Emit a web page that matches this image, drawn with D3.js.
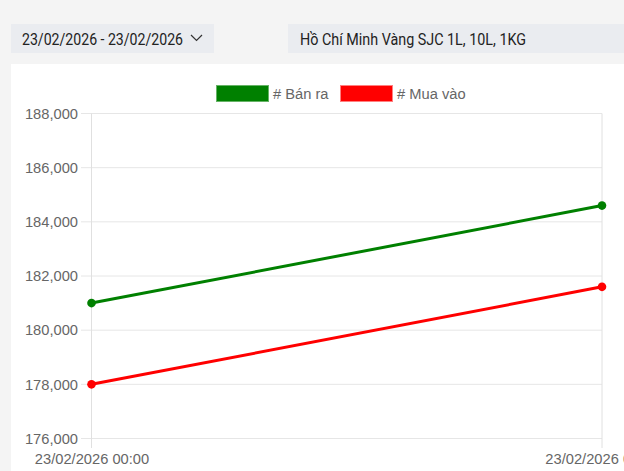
<!DOCTYPE html>
<html><head><meta charset="utf-8">
<script src="https://cdn.jsdelivr.net/npm/d3@7"></script>
<style>
html,body{margin:0;padding:0;background:#f4f4f4;width:624px;height:471px;overflow:hidden;}
svg{display:block;}
</style></head><body>
<svg id="c" width="624" height="471"></svg>
<script>
const categories = ["23/02/2026 00:00", "23/02/2026 00:00"];
const banRa = [181000, 184600];
const muaVao = [178000, 181600];
const yTicks = [176000, 178000, 180000, 182000, 184000, 186000, 188000];
const seriesNames = ["# Bán ra", "# Mua vào"];
const seriesColors = ["#008000", "#ff0000"];
const dateRange = "23/02/2026 - 23/02/2026";
const product = "Hồ Chí Minh Vàng SJC 1L, 10L, 1KG";

const svg = d3.select("#c");
const font = "'Liberation Sans', Arial, sans-serif";
const fs = 14.7;

// top controls
svg.append("rect").attr("x",11).attr("y",24).attr("width",203).attr("height",29).attr("fill","#eaecf0");
svg.append("text").attr("x",22).attr("y",44.5).attr("font-family","Roboto, sans-serif").attr("font-size",16)
  .attr("textLength",161).attr("lengthAdjust","spacingAndGlyphs").attr("fill","#222").text(dateRange);
svg.append("path").attr("d","M191,35 L196.5,40.5 L202,35").attr("fill","none").attr("stroke","#333").attr("stroke-width",1.2);
svg.append("rect").attr("x",288).attr("y",24).attr("width",340).attr("height",29).attr("fill","#eaecf0");
svg.append("text").attr("x",300).attr("y",44.5).attr("font-family","Roboto, sans-serif").attr("font-size",16)
  .attr("textLength",226).attr("lengthAdjust","spacingAndGlyphs").attr("fill","#222").text(product);

// white panel
svg.append("rect").attr("x",11).attr("y",64).attr("width",620).attr("height",420).attr("fill","#fff");

const x = d3.scalePoint().domain(d3.range(categories.length)).range([91.5, 602]);
const y = d3.scaleLinear().domain([176000,188000]).range([438.5, 113.5]);

// grid
const g = svg.append("g");
g.selectAll("line.h").data(yTicks).join("line")
  .attr("x1",81).attr("x2",602).attr("y1",d=>y(d)).attr("y2",d=>y(d))
  .attr("stroke","#e6e6e6").attr("stroke-width",1);
g.selectAll("line.v").data(d3.range(categories.length)).join("line")
  .attr("x1",d=>x(d)).attr("x2",d=>x(d)).attr("y1",113.5).attr("y2",448)
  .attr("stroke","#e0e0e0").attr("stroke-width",1);

// y labels
const yAxis = d3.axisLeft(y).tickValues(yTicks).tickSize(0).tickPadding(0).tickFormat(d3.format(","));
const ya = svg.append("g").attr("transform","translate(78,0)").call(yAxis);
ya.select(".domain").remove();
ya.selectAll("text").attr("font-family",font).attr("font-size",fs).attr("fill","#666");

// x labels
const xAxis = d3.axisBottom(x).tickSize(0).tickPadding(0).tickFormat(i=>categories[i]);
const xa = svg.append("g").attr("transform","translate(0,454)").call(xAxis);
xa.select(".domain").remove();
xa.selectAll("text").attr("font-family",font).attr("font-size",fs).attr("fill","#666");

// lines
const series = [banRa, muaVao];
const line = d3.line().x((d,i)=>x(i)).y(d=>y(d));
series.forEach((s,k)=>{
  svg.append("path").datum(s).attr("d",line).attr("fill","none").attr("stroke",seriesColors[k]).attr("stroke-width",3);
  svg.selectAll(null).data(s).join("circle").attr("cx",(d,i)=>x(i)).attr("cy",d=>y(d)).attr("r",4.3).attr("fill",seriesColors[k]);
});

// legend
const lg = [{x:216,tx:273},{x:340,tx:397}];
seriesNames.forEach((n,k)=>{
  svg.append("rect").attr("x",lg[k].x+0.5).attr("y",85.5).attr("width",52).attr("height",16)
    .attr("fill",seriesColors[k]).attr("stroke",k?"#ff8080":"#66b366").attr("stroke-width",1);
  svg.append("text").attr("x",lg[k].tx).attr("y",98.5).attr("font-family",font).attr("font-size",fs).attr("fill","#666").text(n);
});
</script>
</body></html>
